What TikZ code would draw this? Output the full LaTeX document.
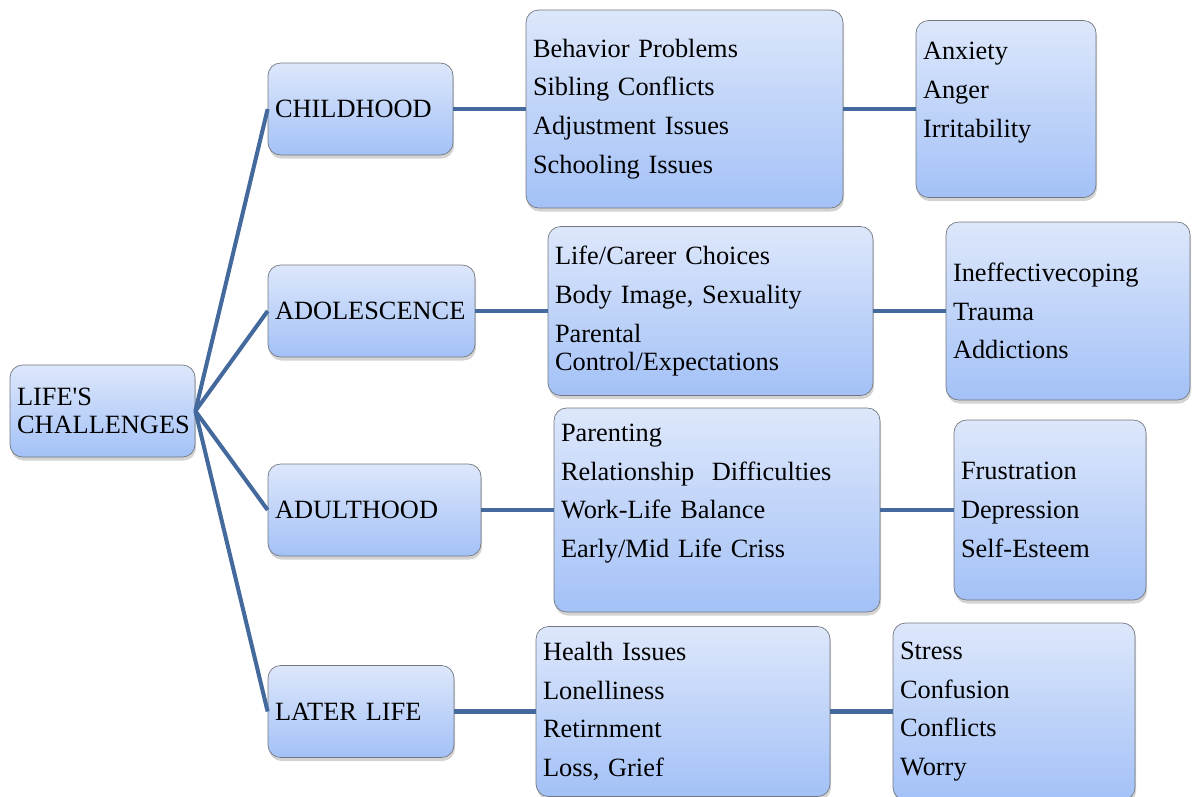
\documentclass[tikz,border=0pt]{standalone}
\usepackage{fontspec}
\setmainfont{Liberation Serif}
\usetikzlibrary{shadows}
\definecolor{boxtop}{HTML}{DDE7FB}
\definecolor{boxbottom}{HTML}{A3C1F7}
\definecolor{boxline}{HTML}{737880}
\definecolor{linkblue}{HTML}{44699D}
\begin{document}
\begin{tikzpicture}[align = left, inner xsep = 0.14cm, inner ysep = 0pt,
    box/.style = {draw = boxline, rounded corners = 0.25cm, top color = boxtop, bottom color = boxbottom,
        drop shadow = {shadow xshift = 0.6pt, shadow yshift = -2pt, opacity = 0.35},
        font = \fontsize{15}{16}\selectfont},
    link/.style = {draw = linkblue, line width = 2.3pt}]
            \useasboundingbox (0, 0) rectangle (23.84, -15.92);
            % root and life stages
            \node[box, text width = 3.42cm, minimum height = 1.84cm] (0) at (2.05, -8.22) {LIFE\textquotesingle S\\CHALLENGES};
            \node[box, text width = 3.42cm, minimum height = 1.84cm] (1) at (7.21, -2.18) {CHILDHOOD};
            \node[box, text width = 3.86cm, minimum height = 1.84cm] (2) at (7.43, -6.22) {ADOLESCENCE};
            \node[box, text width = 3.98cm, minimum height = 1.84cm] (3) at (7.49, -10.20) {ADULTHOOD};
            \node[box, text width = 3.44cm, minimum height = 1.84cm] (4) at (7.22, -14.23) {LATER LIFE};
            
            % issues
            \node[box, text width = 6.06cm, minimum height = 3.96cm] (1a) at (13.69, -2.18) {Behavior Problems\\[6pt] Sibling Conflicts\\[6pt] Adjustment Issues\\[6pt] Schooling Issues};
            \node[box, text width = 6.22cm, minimum height = 3.38cm] (2a) at (14.21, -6.22) {Life/Career Choices\\[6pt] Body Image, Sexuality\\[6pt] Parental\\ Control/Expectations};
            \node[box, text width = 6.24cm, minimum height = 4.08cm] (3a) at (14.34, -10.20) {Parenting\\[6pt] Relationship~~Difficulties\\[6pt] Work-Life Balance\\[6pt] Early/Mid Life Criss\\[6pt] ~};
            \node[box, text width = 5.60cm, minimum height = 3.40cm] (4a) at (13.66, -14.23) {Health Issues\\[6pt] Lonelliness\\[6pt] Retirnment\\[6pt] Loss, Grief};
            
            % outcomes
            \node[box, text width = 3.32cm, minimum height = 3.54cm] (1b) at (20.12, -2.18) {Anxiety\\[6pt] Anger\\[6pt] Irritability\\[6pt] ~};
            \node[box, text width = 4.60cm, minimum height = 3.56cm] (2b) at (21.36, -6.22) {Ineffectivecoping\\[6pt] Trauma\\[6pt] Addictions};
            \node[box, text width = 3.56cm, minimum height = 3.60cm] (3b) at (21.00, -10.20) {Frustration\\[6pt] Depression\\[6pt] Self-Esteem};
            \node[box, text width = 4.56cm, minimum height = 3.54cm] (4b) at (20.28, -14.23) {Stress\\[6pt] Confusion\\[6pt] Conflicts\\[6pt] Worry};
            
            \draw[link] (0.east) -- (1.west);
            \draw[link] (0.east) -- (2.west);
            \draw[link] (0.east) -- (3.west);
            \draw[link] (0.east) -- (4.west);
            \draw[link] (1) -- (1a);
            \draw[link] (2) -- (2a);
            \draw[link] (3) -- (3a);
            \draw[link] (4) -- (4a);
            \draw[link] (1a) -- (1b);
            \draw[link] (2a) -- (2b);
            \draw[link] (3a) -- (3b);
            \draw[link] (4a) -- (4b);
        \end{tikzpicture}
\end{document}
